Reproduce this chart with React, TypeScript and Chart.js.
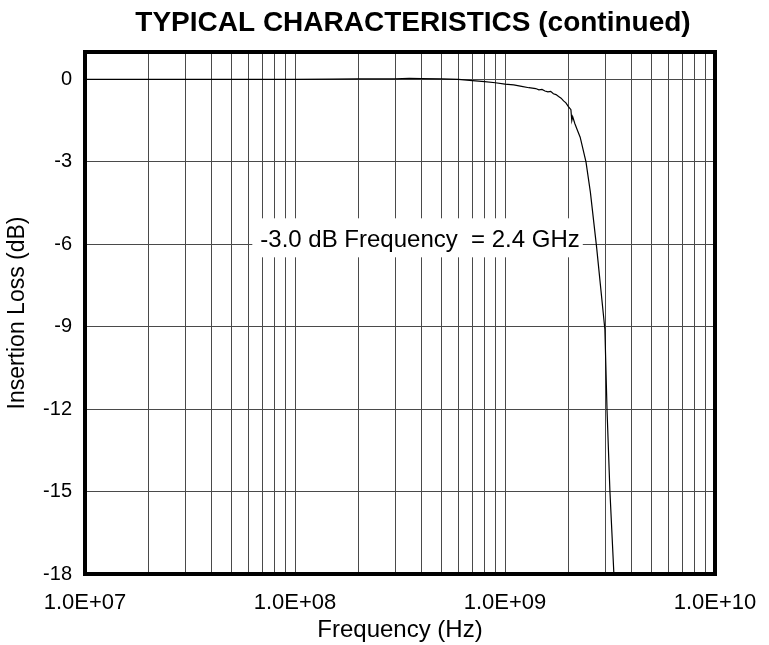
import { useEffect, useRef } from "react";
import { Chart, registerables } from "chart.js";

Chart.register(...registerables);

// ---- data ----
const frequencyHz = [
  1e7, 1.5e7, 2e7, 3e7, 5e7, 7e7, 1e8, 1.5e8, 2e8, 3e8, 3.5e8, 4e8, 5e8, 6e8,
  7e8, 8e8, 9e8, 1e9, 1.1e9, 1.2e9, 1.3e9, 1.4e9, 1.45e9, 1.5e9, 1.55e9,
  1.6e9, 1.65e9, 1.7e9, 1.75e9, 1.8e9, 1.85e9, 1.9e9, 1.95e9, 2.0e9, 2.06e9,
  2.08e9, 2.1e9, 2.15e9, 2.2e9, 2.28e9, 2.43e9, 2.55e9, 2.73e9, 2.99e9,
  3.06e9, 3.16e9, 3.3e9, 3.4e9,
];
const insertionLossDb = [
  0, 0, 0, 0, 0, 0, 0, 0.01, 0.02, 0.02, 0.04, 0.03, 0.02, 0.0,
  -0.04, -0.08, -0.12, -0.17, -0.2, -0.25, -0.3, -0.33, -0.38, -0.36, -0.42,
  -0.45, -0.43, -0.52, -0.55, -0.62, -0.68, -0.78, -0.85, -0.98, -1.1,
  -1.5, -1.35, -1.6, -1.8, -2.1, -3.0, -4.1, -6.1, -9.1,
  -12.0, -15.0, -18.0, -19.5,
];

const yTickValues = [-18, -15, -12, -9, -6, -3, 0];
const yTickLabels = ["-18", "-15", "-12", "-9", "-6", "-3", "0"];
const xDecades = [1e7, 1e8, 1e9];
const xGridMultipliers = [1, 2, 3, 4, 5, 6, 7, 8, 9];
const xLabelValues = [1e7, 1e8, 1e9, 1e10];
const xTickLabels = ["1.0E+07", "1.0E+08", "1.0E+09", "1.0E+10"];

const chartTitle = "TYPICAL CHARACTERISTICS (continued)";
const xAxisTitle = "Frequency (Hz)";
const yAxisTitle = "Insertion Loss (dB)";
const annotationText = "-3.0 dB Frequency  = 2.4 GHz";
const annotationFreq = 3.94e8;
const annotationDb = -6;

const FONT = '"Liberation Sans", Arial, Helvetica, sans-serif';

const xGridValues: number[] = [];
xDecades.forEach((d) => xGridMultipliers.forEach((m) => xGridValues.push(d * m)));
xGridValues.push(1e10);

const decorPlugin = {
  id: "decor",
  beforeDatasetsDraw(chart: any) {
    const { ctx, scales } = chart;
    ctx.save();
    ctx.font = `24px ${FONT}`;
    const tw = ctx.measureText(annotationText).width;
    const cx = scales.x.getPixelForValue(annotationFreq);
    const by = scales.y.getPixelForValue(annotationDb);
    const left = cx - tw / 2;
    ctx.fillStyle = "#fff";
    ctx.fillRect(left - 8, by - 26, tw + 11, 39);
    ctx.fillStyle = "#000";
    ctx.textAlign = "left";
    ctx.textBaseline = "alphabetic";
    ctx.fillText(annotationText, left, by + 3);
    ctx.restore();
  },
  afterDraw(chart: any) {
    const { ctx, chartArea: a } = chart;
    ctx.save();
    ctx.strokeStyle = "#000";
    ctx.lineWidth = 4;
    ctx.strokeRect(a.left, a.top, a.right - a.left, a.bottom - a.top);
    ctx.fillStyle = "#000";
    ctx.font = `bold 28px ${FONT}`;
    ctx.textAlign = "center";
    ctx.textBaseline = "middle";
    ctx.fillText(chartTitle, 413, 23);
    ctx.restore();
  },
};

export default function App() {
  const ref = useRef<HTMLCanvasElement | null>(null);

  useEffect(() => {
    if (!ref.current) return;
    const points = frequencyHz.map((f, i) => ({ x: f, y: insertionLossDb[i] }));
    const chart = new Chart(ref.current, {
      type: "line",
      data: {
        datasets: [
          {
            data: points,
            borderColor: "#000",
            borderWidth: 1.2,
            pointRadius: 0,
            tension: 0,
            fill: false,
          },
        ],
      },
      options: {
        responsive: false,
        animation: false,
        layout: { padding: { left: 0, right: 54, top: 52, bottom: 0 } },
        plugins: {
          legend: { display: false },
          tooltip: { enabled: false },
          title: { display: false },
        },
        scales: {
          x: {
            type: "logarithmic",
            min: 1e7,
            max: 1e10,
            afterBuildTicks: (s: any) => {
              s.ticks = xGridValues.map((v) => ({ value: v }));
            },
            afterFit: (s: any) => {
              s.height = 71;
              s.paddingLeft = 0;
              s.paddingRight = 0;
            },
            grid: { color: "#4a4a4a", lineWidth: 1, drawTicks: false },
            border: { display: false },
            ticks: {
              autoSkip: false,
              maxRotation: 0,
              minRotation: 0,
              padding: 16,
              color: "#000",
              font: { family: FONT, size: 22 },
              callback: (v: any) => {
                const idx = xLabelValues.findIndex((d) => Math.abs(d - Number(v)) / d < 1e-6);
                return idx >= 0 ? xTickLabels[idx] : "";
              },
            },
            title: {
              display: true,
              text: xAxisTitle,
              color: "#000",
              font: { family: FONT, size: 24 },
              padding: { top: 0, bottom: 0 },
            },
          },
          y: {
            type: "linear",
            min: -18,
            max: 1,
            afterBuildTicks: (s: any) => {
              s.ticks = yTickValues.map((v) => ({ value: v }));
            },
            afterFit: (s: any) => {
              s.width = 85;
              s.paddingTop = 0;
              s.paddingBottom = 0;
            },
            grid: { color: "#4a4a4a", lineWidth: 1, drawTicks: false },
            border: { display: false },
            ticks: {
              padding: 13,
              color: "#000",
              font: { family: FONT, size: 20 },
              callback: (v: any) => {
                const idx = yTickValues.indexOf(Number(v));
                return idx >= 0 ? yTickLabels[idx] : "";
              },
            },
            title: {
              display: true,
              text: yAxisTitle,
              color: "#000",
              font: { family: FONT, size: 23 },
              padding: { top: 4, bottom: 0 },
            },
          },
        },
      },
      plugins: [decorPlugin],
    });
    return () => chart.destroy();
  }, []);

  return (
    <div style={{ position: "absolute", left: 0, top: 0, width: 769, height: 645 }}>
      <canvas ref={ref} width={769} height={645} style={{ display: "block" }} />
    </div>
  );
}
